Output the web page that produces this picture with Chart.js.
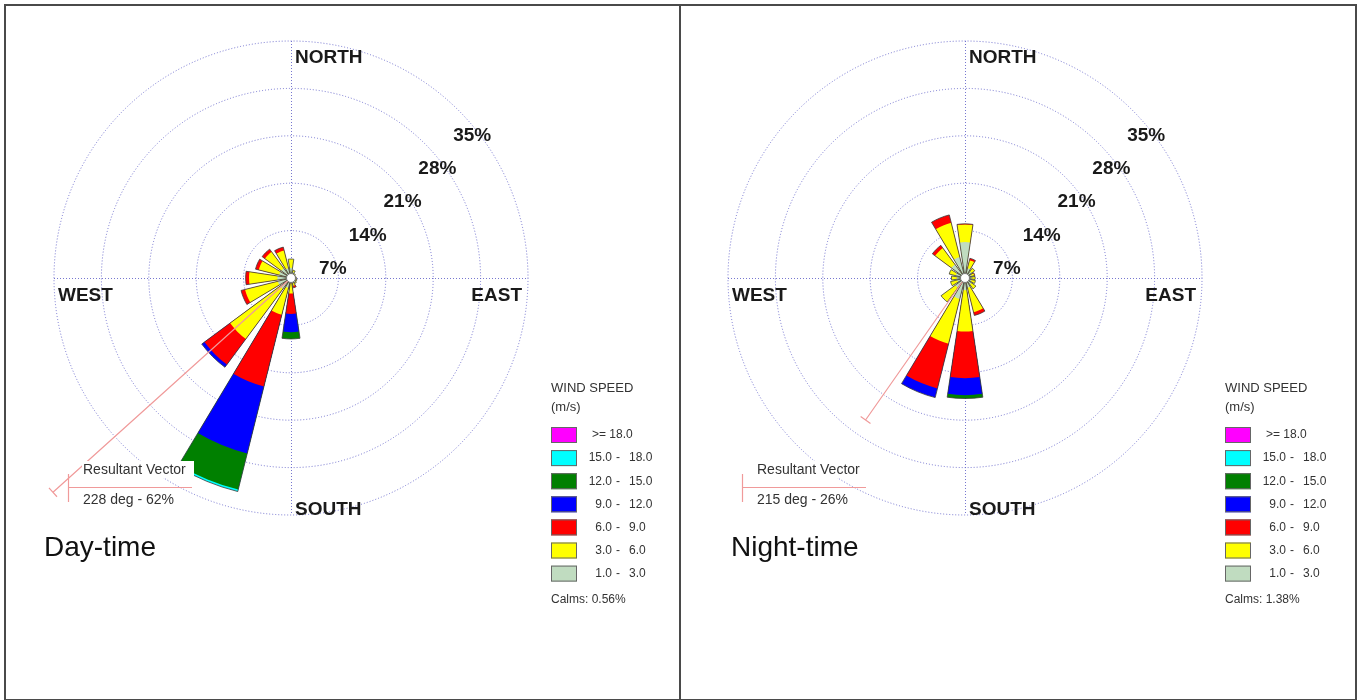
<!DOCTYPE html>
<html>
<head>
<meta charset="utf-8">
<title>Wind rose - day / night</title>
<script src="https://cdn.jsdelivr.net/npm/chart.js@4"></script>
<style>
  body { margin: 0; background: #fff; }
  #frame { position: absolute; left: 4px; top: 4px; width: 1349px; height: 693px; border: 2px solid #4a4a4a; }
  #divider { position: absolute; left: 679px; top: 4px; width: 2px; height: 697px; background: #4a4a4a; }
  canvas { position: absolute; top: 0; }
</style>
</head>
<body>
<div id="frame"></div>
<div id="divider"></div>
<canvas id="dayChart" width="680" height="700" style="left:0"></canvas>
<canvas id="nightChart" width="680" height="700" style="left:674px"></canvas>
<script>
const directions = ['N', 'NNE', 'NE', 'ENE', 'E', 'ESE', 'SE', 'SSE', 'S', 'SSW', 'SW', 'WSW', 'W', 'WNW', 'NW', 'NNW'];
const speedLow = ['1.0', '3.0', '6.0', '9.0', '12.0', '15.0', '18.0'];
const speedHigh = ['3.0', '6.0', '9.0', '12.0', '15.0', '18.0', null];
const speedColors = ['#c0dcc0', '#ffff00', '#ff0000', '#0000ff', '#008000', '#00ffff', '#ff00ff'];
const ringTicks = [7, 14, 21, 28, 35];

// day-time frequency (%) per speed class, by direction
const day1to3 = [1.5, 0.9, 0.7, 0.6, 0.7, 0.7, 0.8, 0.8, 0.8, 1.5, 2.0, 2.0, 2.0, 1.8, 1.8, 1.5];
const day3to6 = [1.3, 0.3, 0.1, 0.1, 0.1, 0.2, 0.2, 0.4, 1.5, 4.1, 9.2, 5.0, 4.2, 3.1, 3.0, 2.7];
const day6to9 = [0, 0, 0, 0, 0, 0, 0, 0.3, 3.0, 10.9, 4.7, 0.6, 0.5, 0.5, 0.5, 0.5];
const day9to12 = [0, 0, 0, 0, 0, 0, 0, 0, 2.7, 10.2, 0.5, 0, 0, 0, 0, 0];
const day12to15 = [0, 0, 0, 0, 0, 0, 0, 0, 1.0, 5.5, 0, 0, 0, 0, 0, 0];
const day15to18 = [0, 0, 0, 0, 0, 0, 0, 0, 0, 0.3, 0, 0, 0, 0, 0, 0];
const day18up = [0, 0, 0, 0, 0, 0, 0, 0, 0, 0, 0, 0, 0, 0, 0, 0];

// night-time frequency (%) per speed class, by direction
const night1to3 = [5.3, 1.5, 1.2, 1.0, 1.0, 1.0, 1.2, 1.5, 1.8, 3.2, 1.8, 1.2, 1.2, 1.4, 2.5, 3.2];
const night3to6 = [2.6, 1.2, 0.6, 0.4, 0.5, 0.6, 0.8, 3.7, 6.1, 6.8, 2.6, 1.0, 0.8, 1.0, 3.0, 5.2];
const night6to9 = [0.1, 0.3, 0, 0.1, 0, 0, 0, 0.5, 6.9, 6.8, 0, 0, 0, 0, 0.5, 1.2];
const night9to12 = [0, 0, 0, 0, 0, 0, 0, 0, 2.5, 1.4, 0, 0, 0, 0, 0, 0];
const night12to15 = [0, 0, 0, 0, 0, 0, 0, 0, 0.5, 0, 0, 0, 0, 0, 0, 0];
const night15to18 = [0, 0, 0, 0, 0, 0, 0, 0, 0, 0, 0, 0, 0, 0, 0, 0];
const night18up = [0, 0, 0, 0, 0, 0, 0, 0, 0, 0, 0, 0, 0, 0, 0, 0];

// calms and resultant vector (direction deg, label %, drawn length in % of scale)
const calms = [0.56, 1.38];
const resultantDir = [228, 215];
const resultantPct = [62, 26];
const resultantLen = [47.3, 25.6];
const panelTitles = ['Day-time', 'Night-time'];

const PETAL = 17;          // petal width, degrees
const GAP = 22.5 - PETAL;
const gridColor = 'rgba(95, 95, 200, 0.85)';
const textFont = '"Liberation Sans", Arial, sans-serif';

function buildDatasets(classes) {
    let run = directions.map(() => 0);
    const sets = [];
    classes.forEach((cls, k) => {
        run = run.map((v, i) => v + cls[i]);
        const vals = run.map((v, i) => cls[i] > 0 ? v : 0);
        sets.push({
            data: vals.flatMap(v => [v, 0]),
            backgroundColor: speedColors[k],
            borderWidth: 0
        });
    });
    // petal outline, drawn on top of all bands
    sets.unshift({
        data: run.flatMap(v => [v, 0]),
        backgroundColor: 'rgba(0,0,0,0)',
        borderColor: '#3a3a3a',
        borderWidth: c => c.dataIndex % 2 === 0 ? 0.8 : 0
    });
    sets.forEach(s => { s.angle = c => c.dataIndex % 2 === 0 ? PETAL : GAP; });
    return sets;
}

function decorPlugin(p) {
    return {
        id: 'roseDecor',
        beforeDatasetsDraw(chart) {
            const r = chart.scales.r;
            const ctx = chart.ctx;
            const R = r.drawingArea;
            ctx.save();
            ctx.strokeStyle = gridColor;
            ctx.lineWidth = 1;
            ctx.setLineDash([1, 2]);
            ctx.beginPath();
            ctx.moveTo(r.xCenter + 0.5, r.yCenter - R);
            ctx.lineTo(r.xCenter + 0.5, r.yCenter + R);
            ctx.moveTo(r.xCenter - R, r.yCenter + 0.5);
            ctx.lineTo(r.xCenter + R, r.yCenter + 0.5);
            ctx.stroke();
            ctx.restore();
        },
        afterDatasetsDraw(chart) {
            const r = chart.scales.r;
            const ctx = chart.ctx;
            const cx = r.xCenter, cy = r.yCenter;
            ctx.save();

            // resultant vector
            const b = resultantDir[p] * Math.PI / 180;
            const d = r.getDistanceFromCenterForValue(resultantLen[p]);
            const ex = cx + d * Math.sin(b), ey = cy - d * Math.cos(b);
            ctx.strokeStyle = '#f09a9a';
            ctx.lineWidth = 1.2;
            ctx.beginPath();
            ctx.moveTo(cx, cy);
            ctx.lineTo(ex, ey);
            ctx.moveTo(ex - 6 * Math.cos(b), ey - 6 * Math.sin(b));
            ctx.lineTo(ex + 6 * Math.cos(b), ey + 6 * Math.sin(b));
            ctx.stroke();

            // calm circle
            ctx.beginPath();
            ctx.arc(cx, cy, 4.5, 0, Math.PI * 2);
            ctx.fillStyle = '#fff';
            ctx.fill();
            ctx.strokeStyle = '#777';
            ctx.lineWidth = 1;
            ctx.stroke();

            // ring labels
            ctx.fillStyle = '#1a1a1a';
            ctx.font = 'bold 19px ' + textFont;
            ctx.textAlign = 'center';
            ctx.textBaseline = 'middle';
            ringTicks.forEach(v => {
                const dist = r.getDistanceFromCenterForValue(v);
                ctx.fillText(v + '%', cx + 7 + 0.735 * dist, cy + 24.5 - 0.705 * dist);
            });

            // compass labels
            ctx.textAlign = 'left';
            ctx.fillText('NORTH', cx + 4, cy - 220);
            ctx.fillText('WEST', cx - 233, cy + 18);
            ctx.textAlign = 'right';
            ctx.fillText('EAST', cx + 231, cy + 18);
            ctx.save();
            ctx.beginPath();
            ctx.rect(0, 0, chart.width, cy + 239);
            ctx.clip();
            ctx.textAlign = 'left';
            ctx.fillText('SOUTH', cx + 4, cy + 232);
            ctx.restore();

            // resultant vector key
            ctx.fillStyle = '#fff';
            ctx.fillRect(82, 461, 112, 17);
            ctx.strokeStyle = '#f09a9a';
            ctx.lineWidth = 1.2;
            ctx.beginPath();
            ctx.moveTo(68, 487.5);
            ctx.lineTo(192, 487.5);
            ctx.moveTo(68.5, 474);
            ctx.lineTo(68.5, 502);
            ctx.stroke();
            ctx.fillStyle = '#333';
            ctx.font = '14px ' + textFont;
            ctx.textAlign = 'left';
            ctx.fillText('Resultant Vector', 83, 470);
            ctx.fillText(resultantDir[p] + ' deg - ' + resultantPct[p] + '%', 83, 500);

            // speed legend
            ctx.font = '13px ' + textFont;
            ctx.fillText('WIND SPEED', 551, 388);
            ctx.fillText('(m/s)', 551, 407);
            ctx.font = '12px ' + textFont;
            for (let j = 0; j < speedColors.length; j++) {
                const k = speedColors.length - 1 - j;
                const top = 427 + j * 23.1;
                ctx.fillStyle = speedColors[k];
                ctx.fillRect(551, top, 26, 16);
                ctx.strokeStyle = '#666';
                ctx.lineWidth = 1;
                ctx.strokeRect(551.5, top + 0.5, 25, 15);
                ctx.fillStyle = '#333';
                if (speedHigh[k] === null) {
                    ctx.textAlign = 'left';
                    ctx.fillText('>= ' + speedLow[k], 592, top + 8);
                } else {
                    ctx.textAlign = 'right';
                    ctx.fillText(speedLow[k], 612, top + 8);
                    ctx.textAlign = 'center';
                    ctx.fillText('-', 618, top + 8);
                    ctx.textAlign = 'left';
                    ctx.fillText(speedHigh[k], 629, top + 8);
                }
            }
            ctx.textAlign = 'left';
            ctx.fillText('Calms: ' + calms[p].toFixed(2) + '%', 551, 600);

            // panel title
            ctx.fillStyle = '#111';
            ctx.font = '28px ' + textFont;
            ctx.fillText(panelTitles[p], p === 0 ? 44 : 57, 548);
            ctx.restore();
        }
    };
}

function makeRose(canvasId, classes, p) {
    const ctx = document.getElementById(canvasId).getContext('2d');
    return new Chart(ctx, {
        type: 'polarArea',
        data: {
            labels: directions.flatMap(d => [d, '']),
            datasets: buildDatasets(classes)
        },
        options: {
            responsive: false,
            animation: false,
            events: [],
            layout: { padding: { left: 54, top: 41, right: 152, bottom: 185 } },
            plugins: { legend: { display: false }, tooltip: { enabled: false } },
            scales: {
                r: {
                    min: 0,
                    max: 35,
                    startAngle: -PETAL / 2,
                    ticks: { display: false, stepSize: 7 },
                    grid: { color: gridColor, lineWidth: 1 },
                    border: { dash: [1, 2] },
                    angleLines: { display: false },
                    pointLabels: { display: false }
                }
            }
        },
        plugins: [decorPlugin(p)]
    });
}

makeRose('dayChart', [day1to3, day3to6, day6to9, day9to12, day12to15, day15to18, day18up], 0);
makeRose('nightChart', [night1to3, night3to6, night6to9, night9to12, night12to15, night15to18, night18up], 1);
</script>
</body>
</html>
